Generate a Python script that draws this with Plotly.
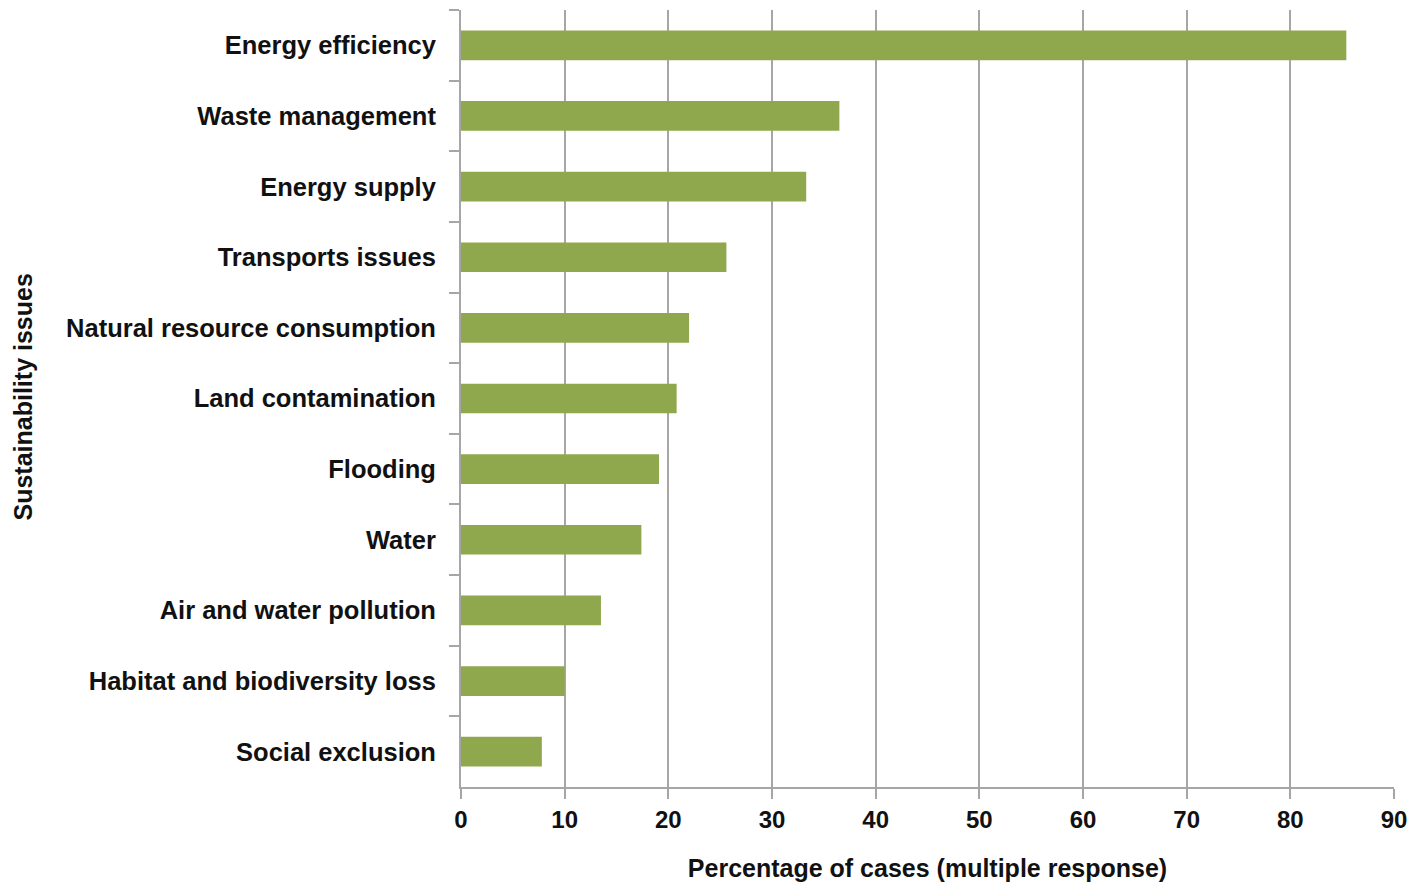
import plotly.graph_objects as go

# data
issues = ['Energy efficiency', 'Waste management', 'Energy supply', 'Transports issues',
          'Natural resource consumption', 'Land contamination', 'Flooding', 'Water',
          'Air and water pollution', 'Habitat and biodiversity loss', 'Social exclusion']
percent = [85.4, 36.5, 33.3, 25.6, 22.0, 20.8, 19.1, 17.4, 13.5, 10.0, 7.8]
x_ticks = [0, 10, 20, 30, 40, 50, 60, 70, 80, 90]

grey = "#A6A6A6"
font_name = "Liberation Sans"

fig = go.Figure(go.Bar(
    x=percent, y=issues, orientation="h",
    marker=dict(color="#8FA84D", line=dict(width=0)),
))

# page body has an 8px margin all round, so the figure is sized to fit inside it
fig.update_layout(
    width=1402, height=874,
    paper_bgcolor="white", plot_bgcolor="white",
    margin=dict(l=453, r=16, t=2, b=92),
    bargap=0.58,
    showlegend=False,
    font=dict(family=font_name, color="#111111"),
)

fig.update_xaxes(
    range=[0, 90], tickvals=x_ticks,
    showgrid=True, gridcolor=grey, gridwidth=2,
    showline=True, linecolor=grey, linewidth=2,
    ticks="outside", ticklen=10, tickwidth=2, tickcolor=grey,
    tickfont=dict(size=24, family=font_name, weight="bold"),
    ticklabeloverflow="allow",
    title=dict(text="<b>Percentage of cases (multiple response)</b>",
               font=dict(size=25, family=font_name), standoff=30),
    zeroline=False,
)

fig.update_yaxes(
    autorange="reversed",
    showgrid=False,
    showline=True, linecolor=grey, linewidth=2,
    ticks="outside", ticklen=10, tickwidth=2, tickcolor=grey,
    tickson="boundaries",
    tickfont=dict(size=25.5, family=font_name, weight="bold"),
    ticklabelstandoff=18,
    title=None,
)

fig.add_annotation(
    text="<b>Sustainability issues</b>", textangle=-90,
    xref="paper", yref="paper", x=(23 - 461) / 933, y=(790 - 399) / 780,
    xanchor="center", yanchor="middle", showarrow=False,
    font=dict(size=25, family=font_name, color="#111111"),
)

fig.write_html("out.html", config={"displayModeBar": False})
